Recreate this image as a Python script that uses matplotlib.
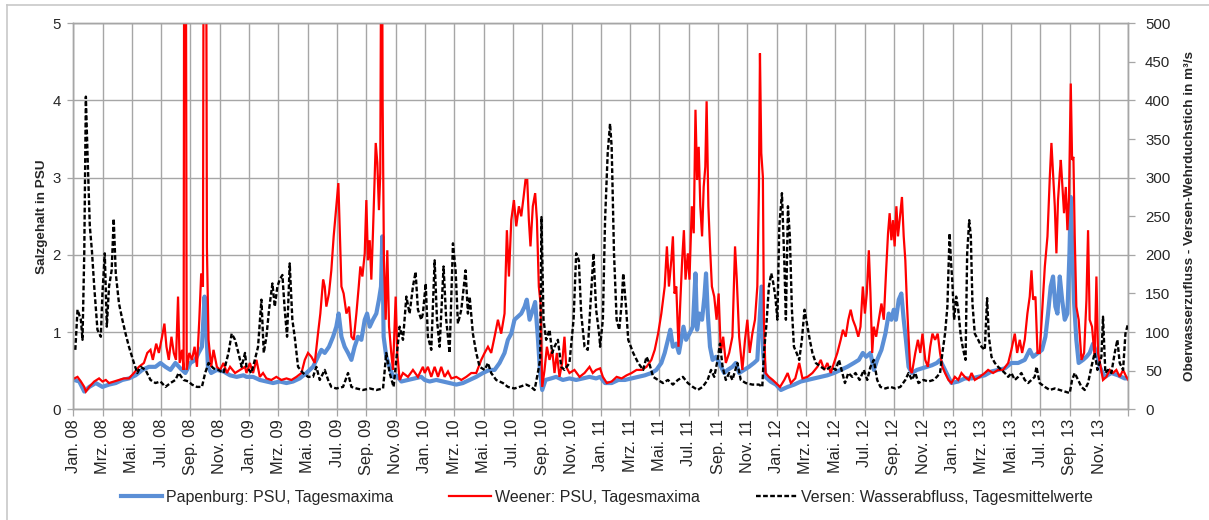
import matplotlib
matplotlib.use("Agg")
import matplotlib.pyplot as plt
from matplotlib.lines import Line2D

plt.rcParams['font.family'] = ['Liberation Sans', 'DejaVu Sans']

# time axis: months since 1 Jan 2008
month_names = ["Jan.", "Mrz.", "Mai.", "Jul.", "Sep.", "Nov."]
years = ["08", "09", "10", "11", "12", "13"]
tick_labels = [f"{m} {y}" for y in years for m in month_names]

# Papenburg: daily maximum salinity (PSU)
papenburg_t = [
    0.07, 0.41, 0.75, 1.09, 1.54, 1.99, 2.44, 2.90, 3.35, 3.80, 4.25, 4.71, 5.16, 5.61, 5.95, 6.29,
    6.63, 6.97, 7.31, 7.65, 7.99, 8.33, 8.55, 8.78, 8.96, 9.05, 9.19, 9.41, 9.80, 10.25, 10.70, 11.15,
    11.61, 11.82, 12.27, 12.73, 13.18, 13.64, 14.09, 14.55, 15.00, 15.45, 15.91, 16.36, 16.70, 16.93,
    17.16, 17.45, 17.73, 17.95, 18.11, 18.30, 18.52, 18.75, 18.98, 19.20, 19.43, 19.66, 19.89, 20.05,
    20.23, 20.45, 20.68, 20.86, 21.00, 21.09, 21.18, 21.36, 21.59, 21.82, 22.05, 22.39, 22.84, 23.30,
    23.75, 23.98, 24.32, 24.77, 25.23, 25.68, 26.14, 26.59, 27.05, 27.50, 27.95, 28.41, 28.75, 29.09,
    29.43, 29.66, 29.89, 30.11, 30.34, 30.57, 30.80, 30.95, 31.14, 31.36, 31.52, 31.70, 31.86, 32.00,
    32.23, 32.61, 32.95, 33.41, 33.86, 34.32, 34.77, 35.23, 35.68, 35.95, 36.29, 36.74, 37.20, 37.65,
    38.10, 38.55, 39.00, 39.45, 39.79, 40.13, 40.36, 40.58, 40.74, 40.92, 41.15, 41.33, 41.49, 41.64,
    41.82, 42.05, 42.28, 42.46, 42.57, 42.73, 42.91, 43.07, 43.18, 43.30, 43.45, 43.63, 43.86, 44.08,
    44.42, 44.65, 44.98, 45.21, 45.44, 45.77, 46.11, 46.45, 46.68, 46.86, 46.97, 47.08, 47.24, 47.58,
    47.95, 48.29, 48.75, 49.20, 49.65, 50.10, 50.56, 51.01, 51.46, 51.91, 52.37, 52.82, 53.27, 53.61,
    53.88, 54.11, 54.40, 54.63, 54.86, 55.15, 55.42, 55.65, 55.83, 55.99, 56.14, 56.33, 56.51, 56.67,
    56.82, 57.00, 57.23, 57.57, 57.91, 58.25, 58.59, 58.93, 59.15, 59.38, 59.72, 59.93, 60.39, 60.84,
    61.30, 61.75, 62.20, 62.66, 63.11, 63.57, 64.02, 64.48, 64.93, 65.27, 65.50, 65.84, 66.11, 66.34,
    66.52, 66.70, 66.86, 67.02, 67.16, 67.32, 67.48, 67.66, 67.84, 67.98, 68.07, 68.18, 68.30, 68.45,
    68.61, 68.91, 69.14, 69.36, 69.59, 69.82, 70.05, 70.39, 70.84, 71.30, 71.75, 72.00,
]
papenburg_psu = [
    0.38, 0.36, 0.23, 0.29, 0.34, 0.29, 0.32, 0.34, 0.38, 0.40, 0.44, 0.51, 0.55, 0.55, 0.60, 0.55,
    0.51, 0.60, 0.53, 0.47, 0.60, 0.64, 0.73, 0.81, 1.46, 1.16, 0.55, 0.47, 0.51, 0.49, 0.44, 0.42,
    0.44, 0.42, 0.42, 0.38, 0.36, 0.34, 0.36, 0.34, 0.36, 0.40, 0.47, 0.55, 0.68, 0.77,
    0.73, 0.81, 0.94, 1.07, 1.24, 0.94, 0.81, 0.73, 0.64, 0.81, 0.94, 0.90, 1.16, 1.24,
    1.07, 1.16, 1.24, 1.42, 1.59, 2.24, 0.94, 0.68, 0.55, 0.42, 0.44, 0.36, 0.38, 0.40,
    0.42, 0.38, 0.36, 0.38, 0.36, 0.34, 0.32, 0.34, 0.38, 0.42, 0.47, 0.51, 0.51, 0.60,
    0.73, 0.90, 0.98, 1.16, 1.20, 1.24, 1.33, 1.42, 1.16, 1.29, 1.39, 0.94, 0.47, 0.25,
    0.38, 0.40, 0.42, 0.38, 0.40, 0.38, 0.40, 0.42, 0.40, 0.42, 0.34, 0.34, 0.38, 0.38,
    0.40, 0.42, 0.44, 0.47, 0.51, 0.60, 0.73, 0.90, 1.03, 0.81, 0.85, 0.73, 0.90, 1.07,
    0.90, 0.98, 1.07, 1.76, 1.03, 1.24, 1.16, 1.46, 1.76, 1.24, 0.81, 0.64, 0.68, 0.60,
    0.47, 0.51, 0.55, 0.60, 0.47, 0.51, 0.55, 0.60, 0.64, 1.24, 1.59, 0.73, 0.42, 0.36,
    0.32, 0.25, 0.29, 0.32, 0.36, 0.38, 0.40, 0.42, 0.44, 0.47, 0.51, 0.55, 0.60, 0.64,
    0.73, 0.68, 0.73, 0.51, 0.64, 0.77, 0.98, 1.24, 1.16, 1.29, 1.16, 1.42, 1.50, 1.16,
    0.90, 0.55, 0.47, 0.51, 0.53, 0.55, 0.57, 0.60, 0.64, 0.55, 0.42, 0.34, 0.36, 0.40,
    0.40, 0.42, 0.44, 0.49, 0.51, 0.53, 0.60, 0.60, 0.64, 0.77, 0.68, 0.73, 0.77, 0.94,
    1.24, 1.59, 1.72, 1.33, 1.24, 1.72, 1.42, 1.16, 1.24, 2.02, 2.75, 2.02, 1.37, 0.90,
    0.60, 0.64, 0.68, 0.73, 0.85, 0.73, 0.55, 0.42, 0.47, 0.44, 0.40, 0.40,
]

# Weener: daily maximum salinity (PSU)
weener_t = [
    0.07, 0.29, 0.52, 0.75, 0.86, 1.09, 1.43, 1.76, 1.99, 2.22, 2.44, 2.78, 3.12, 3.46, 3.80, 4.14,
    4.48, 4.82, 5.05, 5.27, 5.43, 5.66, 5.84, 6.06, 6.22, 6.36, 6.52, 6.70, 6.86, 7.01, 7.15, 7.26,
    7.42, 7.53, 7.58, 7.67, 7.74, 7.92, 8.10, 8.28, 8.44, 8.60, 8.73, 8.85, 8.91, 9.05, 9.12, 9.23,
    9.41, 9.57, 9.80, 10.02, 10.25, 10.48, 10.70, 11.04, 11.38, 11.72,
    11.82, 12.05, 12.27, 12.50, 12.73, 12.95, 13.18, 13.52, 13.86, 14.20, 14.55, 14.89, 15.23, 15.57,
    15.80, 16.02, 16.25, 16.48, 16.70, 16.86, 17.05, 17.16, 17.27, 17.45, 17.61, 17.77, 17.95, 18.09,
    18.18, 18.30, 18.45, 18.64, 18.82, 18.98, 19.14, 19.32, 19.48, 19.59, 19.73, 19.89, 20.00, 20.11,
    20.23, 20.34, 20.45, 20.64, 20.75, 20.86, 20.95, 21.05, 21.11, 21.20, 21.32, 21.43, 21.55, 21.70,
    21.82, 22.00, 22.11, 22.27, 22.50, 22.84, 23.18, 23.52, 23.86,
    23.98, 24.20, 24.43, 24.66, 24.89, 25.11, 25.34, 25.57, 25.80, 26.14, 26.48, 26.82, 27.16, 27.50,
    27.84, 28.07, 28.30, 28.52, 28.75, 28.98, 29.20, 29.43, 29.59, 29.73, 29.89, 30.07, 30.23, 30.41,
    30.57, 30.73, 30.86, 30.98, 31.09, 31.20, 31.36, 31.52, 31.64, 31.77, 31.89, 32.00, 32.16, 32.32,
    32.50, 32.68, 32.84, 33.00, 33.18, 33.36, 33.52, 33.64, 33.86, 34.20, 34.55, 34.89, 35.23, 35.45,
    35.68,
    35.95, 36.14, 36.41, 36.74, 37.08, 37.42, 37.76, 38.10, 38.44, 38.78, 39.12, 39.45, 39.68, 39.91,
    40.13, 40.36, 40.51, 40.65, 40.81, 40.92, 41.03, 41.15, 41.30, 41.42, 41.55, 41.67, 41.78, 41.94,
    42.05, 42.21, 42.34, 42.46, 42.57, 42.68, 42.79, 42.91, 43.02, 43.13, 43.22, 43.34, 43.45, 43.58,
    43.74, 43.90, 44.04, 44.19, 44.35, 44.53, 44.76, 44.98, 45.16, 45.28, 45.44, 45.66, 45.84, 46.00,
    46.16, 46.34, 46.52, 46.68, 46.79, 46.86, 46.95, 47.06, 47.13, 47.24, 47.47,
    47.73, 47.95, 48.23, 48.52, 48.75, 48.97, 49.27, 49.54, 49.76, 50.10, 50.44, 50.78, 51.01, 51.24,
    51.46, 51.69, 51.91, 52.14, 52.37, 52.52, 52.71, 52.89, 53.05, 53.20, 53.38, 53.57, 53.72, 53.88,
    54.02, 54.15, 54.29, 54.40, 54.52, 54.63, 54.79, 54.97, 55.15, 55.31, 55.47, 55.60, 55.71, 55.83,
    55.94, 56.05, 56.17, 56.28, 56.44, 56.55, 56.67, 56.78, 56.89, 57.00, 57.12, 57.23, 57.46, 57.64,
    57.80, 57.95, 58.14, 58.32, 58.48, 58.63, 58.81, 58.99, 59.15, 59.31, 59.49, 59.72,
    59.93, 60.16, 60.39, 60.61, 60.84, 61.11, 61.30, 61.52, 61.86, 62.20, 62.43, 62.77, 63.11, 63.45,
    63.80, 64.02, 64.25, 64.41, 64.59, 64.75, 64.93, 65.11, 65.27, 65.39, 65.50, 65.66, 65.80, 65.95,
    66.11, 66.30, 66.48, 66.64, 66.75, 66.86, 66.98, 67.09, 67.20, 67.32, 67.39, 67.50, 67.61, 67.73,
    67.84, 67.95, 68.07, 68.16, 68.25, 68.34, 68.45, 68.61, 68.80, 68.98, 69.14, 69.25, 69.36, 69.52,
    69.70, 69.82, 69.93, 70.11, 70.27, 70.50, 70.73, 70.95, 71.18, 71.41, 71.64, 71.86, 72.00,
]
weener_psu = [
    0.40, 0.42, 0.36, 0.29, 0.23, 0.29, 0.36, 0.40, 0.36, 0.38, 0.34, 0.36, 0.38, 0.40, 0.40, 0.47,
    0.55, 0.60, 0.73, 0.77, 0.64, 0.85, 0.73, 0.94, 1.11, 0.81, 0.64, 0.94, 0.73, 0.64, 1.46, 0.60,
    0.77, 0.51, 8.00, 8.00, 0.51, 0.73, 0.64, 0.81, 0.55, 1.16, 1.76, 1.59, 8.00, 8.00, 2.10, 0.90,
    0.55, 0.77, 0.55, 0.51, 0.60, 0.47, 0.55, 0.47, 0.51, 0.55,
    0.47, 0.60, 0.47, 0.64, 0.42, 0.47, 0.40, 0.38, 0.42, 0.38, 0.40, 0.38, 0.42, 0.47,
    0.64, 0.73, 0.68, 0.60, 0.98, 1.24, 1.68, 1.59, 1.33, 1.50, 1.80, 2.24, 2.63, 2.93,
    2.37, 1.59, 1.50, 1.24, 1.33, 0.94, 0.90, 1.24, 1.59, 1.85, 1.72, 2.02, 2.71, 1.93,
    2.19, 1.68, 2.28, 3.45, 3.19, 2.58, 3.06, 8.00, 4.00, 1.93, 1.16, 2.06, 1.07, 0.73,
    0.51, 1.46, 0.73, 0.38, 0.47, 0.42, 0.51, 0.42, 0.55,
    0.47, 0.55, 0.42, 0.55, 0.42, 0.55, 0.42, 0.49, 0.40, 0.42, 0.38, 0.42, 0.47, 0.47,
    0.64, 0.73, 0.81, 0.73, 0.94, 1.16, 0.98, 1.24, 2.32, 1.72, 2.45, 2.71, 2.37, 2.63,
    2.50, 2.75, 2.97, 2.97, 2.45, 2.11, 2.63, 2.80, 2.45, 1.59, 1.37, 0.29, 0.51, 0.81,
    0.64, 0.77, 0.47, 0.73, 0.42, 0.60, 0.94, 0.55, 0.47, 0.51, 0.42, 0.47, 0.55, 0.47,
    0.51,
    0.53, 0.42, 0.34, 0.36, 0.42, 0.40, 0.44, 0.47, 0.51, 0.51, 0.55, 0.64, 0.77, 0.98,
    1.24, 1.59, 2.11, 1.59, 1.93, 2.24, 1.50, 1.59, 0.81, 1.37, 1.93, 2.32, 1.68, 2.02,
    1.68, 2.63, 2.28, 3.88, 2.97, 3.40, 2.63, 2.24, 2.88, 3.14, 3.99, 2.63, 2.11, 1.59,
    1.46, 1.16, 1.50, 0.73, 0.94, 0.60, 0.73, 0.94, 2.11, 1.68, 0.94, 0.51, 0.90, 1.16,
    0.73, 0.98, 1.16, 1.59, 2.88, 4.61, 3.32, 3.01, 1.16, 0.47, 0.42,
    0.38, 0.34, 0.29, 0.38, 0.47, 0.34, 0.40, 0.60, 0.40, 0.42, 0.47, 0.55, 0.64, 0.51,
    0.60, 0.47, 0.60, 0.73, 0.90, 1.03, 0.94, 1.16, 1.29, 1.16, 1.07, 0.94, 1.07, 1.59,
    1.24, 1.50, 2.06, 1.50, 0.73, 1.07, 0.94, 1.16, 1.37, 1.16, 1.80, 2.28, 2.54, 2.19,
    2.45, 2.11, 2.63, 2.24, 2.54, 2.75, 2.24, 1.93, 1.37, 0.94, 0.51, 0.47, 0.73, 0.90,
    0.73, 0.98, 0.64, 0.55, 0.81, 0.98, 0.90, 0.98, 0.73, 0.55, 0.47, 0.38,
    0.34, 0.42, 0.38, 0.47, 0.42, 0.38, 0.47, 0.38, 0.42, 0.47, 0.51, 0.47, 0.51, 0.51,
    0.60, 0.77, 0.98, 0.73, 0.90, 0.73, 0.90, 1.24, 1.46, 1.80, 1.42, 1.46, 0.73, 0.73,
    1.24, 1.85, 2.24, 3.01, 3.45, 3.06, 2.63, 2.02, 2.71, 3.06, 3.23, 2.88, 2.54, 2.88,
    2.32, 2.75, 4.22, 3.23, 3.27, 2.24, 1.33, 1.16, 0.64, 0.73, 1.42, 2.32, 1.16, 1.07,
    0.68, 1.72, 0.73, 0.55, 0.38, 0.42, 0.51, 0.47, 0.51, 0.42, 0.51, 0.42, 0.38,
]

# Versen: daily mean discharge (m³/s)
versen_t = [
    0.14, 0.29, 0.52, 0.63, 0.75, 0.86, 0.97, 1.13, 1.27, 1.43, 1.65, 1.88, 1.99, 2.15, 2.29, 2.44,
    2.62, 2.76, 2.90, 3.12, 3.35, 3.57, 3.80, 4.14, 4.37, 4.59, 4.93, 5.27, 5.61, 5.95, 6.29, 6.63,
    6.97, 7.19, 7.53, 7.87, 8.10, 8.44, 8.78, 9.00, 9.23, 9.57, 9.91, 10.25, 10.59, 10.81, 11.04,
    11.27, 11.49, 11.72,
    11.82, 12.16, 12.39, 12.61, 12.84, 13.00, 13.18, 13.36, 13.59, 13.75, 13.93, 14.09, 14.27, 14.43,
    14.59, 14.77, 14.95, 15.11, 15.34, 15.68, 16.02, 16.36, 16.59, 16.82, 17.16, 17.39, 17.61, 17.95,
    18.41, 18.75, 18.98, 19.32, 19.77, 20.23, 20.68, 21.14, 21.36, 21.59, 21.86, 22.09, 22.27, 22.50,
    22.73, 22.95, 23.18, 23.36, 23.52, 23.75,
    23.86, 24.05, 24.20, 24.43, 24.66, 24.82, 25.00, 25.27, 25.45, 25.68, 25.91, 26.09, 26.25, 26.48,
    26.77, 26.93, 27.05, 27.27, 27.50, 27.73, 28.07, 28.30, 28.52, 28.86, 29.32, 29.66, 30.11, 30.45,
    30.91, 31.25, 31.48, 31.70, 31.86, 31.95, 32.09, 32.27, 32.50, 32.68, 32.84, 33.07, 33.30, 33.52,
    33.86, 34.14, 34.32, 34.50, 34.66, 34.89, 35.11, 35.34, 35.50, 35.68, 35.91,
    35.95, 36.14, 36.29, 36.47, 36.63, 36.74, 36.90, 37.08, 37.26, 37.42, 37.53, 37.72, 37.87, 38.21,
    38.55, 38.89, 39.12, 39.30, 39.57, 39.91, 40.24, 40.58, 40.92, 41.26, 41.60, 41.94, 42.28, 42.61,
    42.95, 43.29, 43.52, 43.74, 43.97, 44.13, 44.31, 44.53, 44.76, 44.98, 45.32, 45.55, 45.89, 46.34,
    46.79, 47.02, 47.13, 47.29, 47.47, 47.63,
    47.73, 47.91, 48.05, 48.18, 48.36, 48.52, 48.63, 48.77, 48.90, 49.04, 49.18, 49.36, 49.54, 49.72,
    49.90, 50.10, 50.26, 50.44, 50.67, 51.01, 51.35, 51.69, 52.03, 52.25, 52.48, 52.66, 52.89, 53.16,
    53.38, 53.66, 53.95, 54.18, 54.40, 54.63, 54.86, 55.08, 55.42, 55.76, 56.10, 56.44, 56.78, 57.00,
    57.23, 57.46, 57.68, 58.02, 58.36, 58.70, 58.93, 59.15, 59.31, 59.49, 59.65,
    59.80, 59.90, 59.98, 60.11, 60.25, 60.39, 60.57, 60.73, 60.89, 61.00, 61.14, 61.25, 61.36, 61.52,
    61.75, 61.98, 62.20, 62.36, 62.48, 62.66, 62.89, 63.11, 63.34, 63.57, 63.80, 64.02, 64.25, 64.48,
    64.70, 64.93, 65.16, 65.39, 65.61, 65.73, 65.95, 66.30, 66.64, 66.98, 67.32, 67.66, 68.00, 68.16,
    68.34, 68.57, 68.80, 69.02, 69.25, 69.48, 69.70, 69.89, 70.16, 70.27, 70.43, 70.61, 70.84, 71.07,
    71.25, 71.41, 71.64, 71.80, 71.98,
]
versen_q = [
    77, 129, 116, 90, 202, 405, 332, 237, 206, 159, 103, 94, 150, 202, 107, 159,
    180, 247, 176, 137, 116, 98, 81, 60, 47, 55, 51, 38, 34, 36, 29, 34,
    38, 47, 38, 36, 32, 29, 29, 47, 60, 53, 51, 47, 73, 98, 90,
    73, 55, 73,
    55, 47, 64, 81, 142, 73, 94, 129, 163, 133, 159, 168, 174, 129,
    94, 189, 116, 94, 55, 47, 42, 42, 55, 38, 51, 38, 29, 27,
    29, 47, 29, 27, 25, 27, 25, 27, 73, 47, 29, 73, 107, 90,
    146, 124, 159, 178, 129, 116,
    124, 163, 94, 77, 193, 116, 81, 185, 116, 73, 215, 180, 111, 129,
    180, 124, 146, 98, 73, 55, 51, 60, 47, 38, 34, 29, 27, 29,
    32, 29, 25, 47, 64, 249, 116, 90, 103, 73, 81, 90, 55, 51,
    60, 116, 202, 193, 124, 81, 77, 150, 202, 129, 94,
    81, 116, 245, 332, 370, 340, 202, 116, 103, 137, 176, 133, 90, 73,
    60, 51, 68, 60, 42, 38, 34, 38, 32, 38, 42, 34, 29, 25,
    29, 38, 51, 42, 64, 85, 55, 38, 47, 38, 60, 38, 34, 32,
    32, 29, 73, 107, 159, 176,
    168, 146, 116, 237, 280, 193, 116, 263, 224, 129, 81, 73, 64, 90,
    129, 107, 90, 73, 60, 55, 51, 55, 51, 64, 47, 34, 47, 42,
    47, 38, 51, 38, 55, 64, 38, 29, 27, 29, 27, 29, 38, 47,
    38, 47, 34, 38, 36, 38, 42, 47, 73, 98, 133,
    228, 190, 168, 116, 146, 129, 94, 77, 64, 202, 245, 224, 137, 98,
    90, 81, 77, 144, 94, 68, 60, 55, 51, 47, 42, 47, 38, 42,
    47, 38, 34, 38, 42, 55, 34, 29, 25, 27, 25, 23, 21, 38,
    47, 38, 29, 25, 34, 55, 73, 51, 68, 120, 47, 51, 47, 73,
    90, 60, 51, 98, 111,
]

# chart colours
c_papenburg = "#5b8fd6"
c_weener = "#ff0000"
c_versen = "#000000"
c_grid = "#a6a6a6"
c_text = "#262626"

fig = plt.figure(figsize=(12.09, 5.20), dpi=100)
ax = fig.add_axes([0.0606, 0.2129, 0.8727, 0.7423])
ax2 = ax.twinx()

l_pap, = ax.plot(papenburg_t, papenburg_psu, color=c_papenburg, lw=3.0,
                 solid_joinstyle="round", zorder=2)
l_wee, = ax.plot(weener_t, weener_psu, color=c_weener, lw=1.6,
                 solid_joinstyle="miter", zorder=3)
l_ver, = ax2.plot(versen_t, versen_q, color=c_versen, lw=1.7,
                  dashes=(2.0, 1.0), zorder=4)

ax.set_xlim(0, 72)
ax.set_ylim(0, 5)
ax2.set_ylim(0, 500)

ax.set_xticks(range(0, 73, 2))
ax.set_xticklabels(tick_labels + [""], rotation=90, fontsize=11.8, color=c_text)
ax.set_yticks(range(0, 6))
ax.tick_params(axis="y", labelsize=10.8, colors=c_text, length=4, width=0.9, color=c_grid, pad=5)
ax.tick_params(axis="x", length=5, width=0.9, color=c_grid, pad=2)
ax2.set_yticks(range(0, 501, 50))
ax2.tick_params(axis="y", labelsize=10.8, colors=c_text, length=5, width=0.9, color=c_grid, pad=7)

ax.grid(True, color=c_grid, lw=1.0)
ax.set_axisbelow(True)
for a in (ax, ax2):
    for s in a.spines.values():
        s.set_color(c_grid)
        s.set_linewidth(1.0)

ax.set_ylabel("Salzgehalt in PSU", fontsize=9.7, fontweight="bold", color=c_text, labelpad=3)
ax2.set_ylabel("Oberwasserzufluss - Versen-Wehrduchstich in m³/s", fontsize=9.7,
               fontweight="bold", color=c_text, labelpad=10)

fig.legend([l_pap, l_wee, l_ver],
           ["Papenburg: PSU, Tagesmaxima", "Weener: PSU, Tagesmaxima",
            "Versen: Wasserabfluss, Tagesmittelwerte"],
           loc="center", bbox_to_anchor=(0.502, 0.044), ncol=3, frameon=False,
           fontsize=11.5, handlelength=2.6, handletextpad=0.25, columnspacing=3.5,
           labelcolor=c_text)

# outer frame of the chart area
fig.add_artist(Line2D([0.006, 1.0], [0.990, 0.990], transform=fig.transFigure,
                      color="#c8c8c8", lw=1.2))
fig.add_artist(Line2D([0.006, 0.006], [0.0, 0.990], transform=fig.transFigure,
                      color="#c8c8c8", lw=1.2))

fig.savefig("out.png", dpi=100, facecolor="white")
